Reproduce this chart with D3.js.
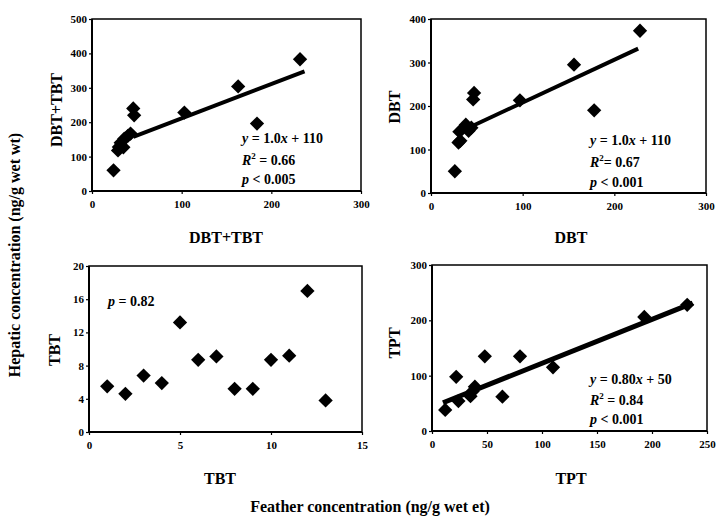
<!DOCTYPE html>
<html>
<head>
<meta charset="utf-8">
<script src="https://cdn.jsdelivr.net/npm/d3@7"></script>
<style>
  body { margin: 0; background: #fff; }
  svg { display: block; }
  text { font-family: "Liberation Serif", "Times New Roman", serif; font-weight: bold; fill: #000; }
  .domain { display: none; }
  .tick line { stroke: #000; stroke-width: 1.2; }
</style>
</head>
<body>
<svg width="718" height="521"></svg>
<script>
// ---- data ----
var dbtTbtFeather = [24, 29, 30, 32, 35, 36, 40, 43, 46, 47, 103, 163, 184, 232];
var dbtTbtLiver   = [60, 118, 128, 140, 127, 152, 160, 167, 240, 220, 228, 304, 196, 383];

var dbtFeather = [26, 30, 32, 31, 38, 41, 44, 46, 47, 97, 156, 178, 228];
var dbtLiver   = [50, 116, 120, 141, 157, 143, 150, 215, 230, 213, 295, 190, 373];

var tbtFeather = [1, 2, 3, 4, 5, 6, 7, 8, 9, 10, 11, 12, 13];
var tbtLiver   = [5.5, 4.6, 6.8, 5.9, 13.2, 8.7, 9.1, 5.2, 5.2, 8.7, 9.2, 17, 3.8];

var tptFeather = [12, 22, 24, 35, 37, 39, 48, 64, 80, 110, 193, 232];
var tptLiver   = [38, 98, 54, 63, 72, 80, 135, 62, 135, 115, 206, 228];

// regression lines (end points, data units)
var fitDbtTbt = [[46, 157], [237, 348]];
var fitDbt    = [[41, 150], [226, 332]];
var fitTpt    = [[10, 51], [237, 231]];

var xTicks1 = [0, 100, 200, 300], yTicks1 = [0, 100, 200, 300, 400, 500];
var xTicks2 = [0, 100, 200, 300], yTicks2 = [0, 100, 200, 300, 400];
var xTicks3 = [0, 5, 10, 15],     yTicks3 = [0, 4, 8, 12, 16, 20];
var xTicks4 = [0, 50, 100, 150, 200, 250], yTicks4 = [0, 100, 200, 300];

var serif = '"Liberation Serif", "Times New Roman", serif';
var svg = d3.select("svg");

var panels = [
  { box: [92, 361, 19, 191], xd: [0, 300], yd: [0, 500], xt: xTicks1, yt: yTicks1,
    xs: dbtTbtFeather, ys: dbtTbtLiver, fit: fitDbtTbt, lw: 4,
    title: "DBT+TBT", tx: [226, 243], ty: [56, 110],
    notes: { x: 242, y: [143, 165, 184], eq: "1.0", b: "110", r2: "0.66", r2sp: " ", p: "< 0.005" } },
  { box: [431, 706, 19, 193], xd: [0, 300], yd: [0, 400], xt: xTicks2, yt: yTicks2,
    xs: dbtFeather, ys: dbtLiver, fit: fitDbt, lw: 4,
    title: "DBT", tx: [571, 243], ty: [394, 107],
    notes: { x: 590, y: [145, 167, 187], eq: "1.0", b: "110", r2: "0.67", r2sp: "", p: "< 0.001" } },
  { box: [89, 362, 266, 432], xd: [0, 15], yd: [0, 20], xt: xTicks3, yt: yTicks3,
    xs: tbtFeather, ys: tbtLiver, fit: null,
    title: "TBT", tx: [220, 484], ty: [54, 350],
    pOnly: { x: 108, y: 306, t: "= 0.82" } },
  { box: [432, 707, 265, 431], xd: [0, 250], yd: [0, 300], xt: xTicks4, yt: yTicks4,
    xs: tptFeather, ys: tptLiver, fit: fitTpt, lw: 5,
    title: "TPT", tx: [571, 484], ty: [394, 343],
    notes: { x: 590, y: [384, 405, 424], eq: "0.80", b: "50", r2: "0.84", r2sp: " ", p: "< 0.001" } }
];

panels.forEach(function (p) {
  var x = d3.scaleLinear().domain(p.xd).range([p.box[0], p.box[1]]);
  var y = d3.scaleLinear().domain(p.yd).range([p.box[3], p.box[2]]);
  var g = svg.append("g");

  // frame
  g.append("rect")
    .attr("x", p.box[0]).attr("y", p.box[2])
    .attr("width", p.box[1] - p.box[0]).attr("height", p.box[3] - p.box[2])
    .attr("fill", "none").attr("stroke", "#000").attr("stroke-width", 1.5);
  g.append("path")
    .attr("d", "M" + p.box[0] + "," + p.box[2] + "V" + p.box[3] + "H" + p.box[1])
    .attr("fill", "none").attr("stroke", "#000").attr("stroke-width", 2);

  // axes
  var xa = g.append("g")
    .attr("transform", "translate(0," + p.box[3] + ")")
    .call(d3.axisBottom(x).tickValues(p.xt).tickSize(3).tickSizeOuter(0).tickPadding(6));
  var ya = g.append("g")
    .attr("transform", "translate(" + p.box[0] + ",0)")
    .call(d3.axisLeft(y).tickValues(p.yt).tickSize(3).tickSizeOuter(0).tickPadding(2));
  [xa, ya].forEach(function (a) {
    a.attr("font-family", serif).attr("font-size", 11);
    a.selectAll("text")
      .attr("font-family", serif).attr("font-weight", "bold")
      .style("font-family", serif).style("font-weight", "bold").style("font-size", "11px");
  });

  // regression line
  if (p.fit) {
    g.append("line")
      .attr("x1", x(p.fit[0][0])).attr("y1", y(p.fit[0][1]))
      .attr("x2", x(p.fit[1][0])).attr("y2", y(p.fit[1][1]))
      .attr("stroke", "#000").attr("stroke-width", p.lw);
  }

  // points
  var diamond = d3.symbol().type(d3.symbolDiamond2).size(130);
  g.selectAll(".pt").data(p.xs).enter().append("path")
    .attr("class", "pt")
    .attr("d", diamond)
    .attr("transform", function (d, i) { return "translate(" + x(d) + "," + y(p.ys[i]) + ")"; })
    .attr("fill", "#000");

  // titles
  g.append("text").attr("x", p.tx[0]).attr("y", p.tx[1])
    .attr("text-anchor", "middle").style("font-size", "16px").text(p.title);
  g.append("text")
    .attr("transform", "translate(" + p.ty[0] + "," + p.ty[1] + ") rotate(-90)")
    .attr("text-anchor", "middle").attr("dy", "0.35em").style("font-size", "16px").text(p.title);

  // annotations
  if (p.notes) {
    var n = p.notes;
    var t1 = g.append("text").attr("x", n.x).attr("y", n.y[0]).style("font-size", "14px");
    t1.append("tspan").style("font-style", "italic").text("y");
    t1.append("tspan").text(" = " + n.eq);
    t1.append("tspan").style("font-style", "italic").text("x");
    t1.append("tspan").text(" + " + n.b);
    var t2 = g.append("text").attr("x", n.x).attr("y", n.y[1]).style("font-size", "14px");
    t2.append("tspan").style("font-style", "italic").text("R");
    t2.append("tspan").attr("dy", -6).style("font-size", "9px").text("2");
    t2.append("tspan").attr("dy", 6).text(n.r2sp + "= " + n.r2);
    var t3 = g.append("text").attr("x", n.x).attr("y", n.y[2]).style("font-size", "14px");
    t3.append("tspan").style("font-style", "italic").text("p");
    t3.append("tspan").text(" " + n.p);
  }
  if (p.pOnly) {
    var t = g.append("text").attr("x", p.pOnly.x).attr("y", p.pOnly.y).style("font-size", "14px");
    t.append("tspan").style("font-style", "italic").text("p");
    t.append("tspan").text(" " + p.pOnly.t);
  }
});

// overall axis titles
svg.append("text")
  .attr("transform", "translate(14,255) rotate(-90)")
  .attr("text-anchor", "middle").attr("dy", "0.35em").style("font-size", "16px")
  .text("Hepatic concentration (ng/g wet wt)");
svg.append("text")
  .attr("x", 370).attr("y", 512)
  .attr("text-anchor", "middle").style("font-size", "16px")
  .text("Feather concentration (ng/g wet et)");
</script>
</body>
</html>
